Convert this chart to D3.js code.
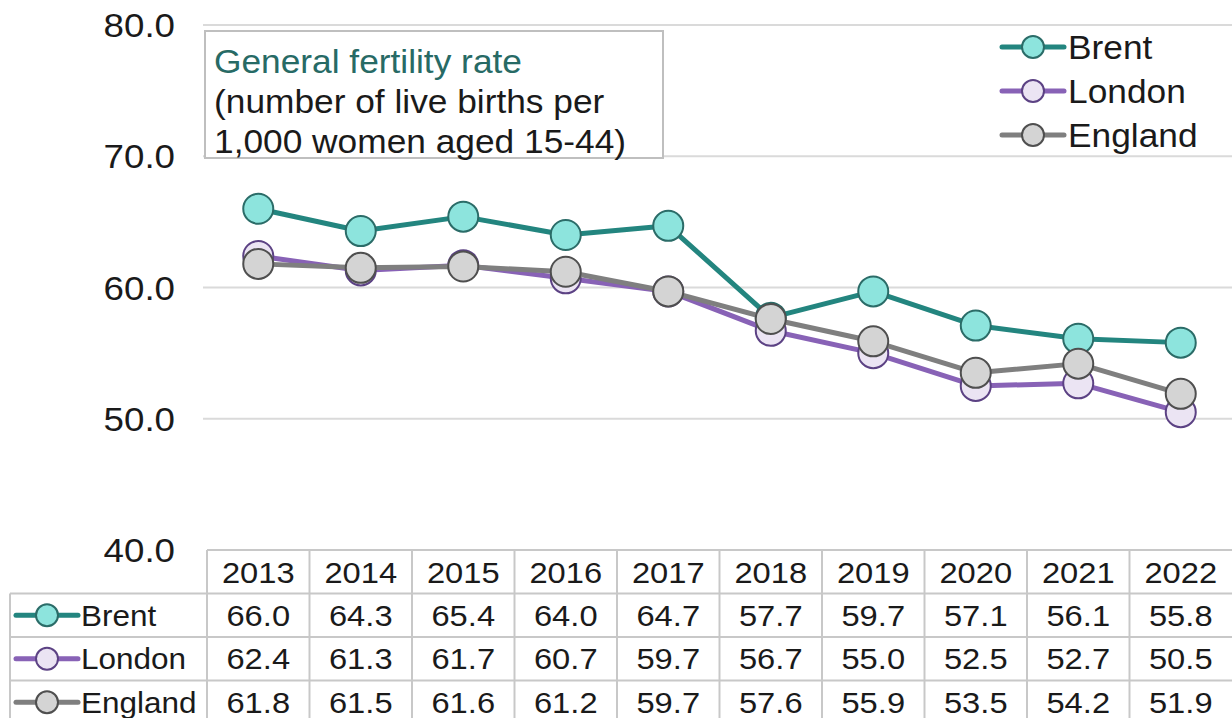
<!DOCTYPE html>
<html>
<head>
<meta charset="utf-8">
<script src="https://cdn.jsdelivr.net/npm/d3@7"></script>
<style>
  body { margin: 0; background: #fff; }
  svg { font-family: "Liberation Sans", Arial, sans-serif; }
</style>
</head>
<body>
<svg width="1232" height="718"></svg>
<script>
// data
var years = ["2013", "2014", "2015", "2016", "2017", "2018", "2019", "2020", "2021", "2022"];
var brent = [66.0, 64.3, 65.4, 64.0, 64.7, 57.7, 59.7, 57.1, 56.1, 55.8];
var london = [62.4, 61.3, 61.7, 60.7, 59.7, 56.7, 55.0, 52.5, 52.7, 50.5];
var england = [61.8, 61.5, 61.6, 61.2, 59.7, 57.6, 55.9, 53.5, 54.2, 51.9];
var yTicks = [40, 50, 60, 70, 80];
var titleLines = ["General fertility rate", "(number of live births per", "1,000 women aged 15-44)"];

var series = [
  { name: "Brent", values: brent, line: "#23857f", fill: "#8de4dd", stroke: "#2b6c68" },
  { name: "London", values: london, line: "#8862b6", fill: "#ebe4f3", stroke: "#5c4284" },
  { name: "England", values: england, line: "#7f7f7f", fill: "#d4d4d4", stroke: "#4f4f4f" }
];

var svg = d3.select("svg");
var plotLeft = 207, plotRight = 1232;

var x = d3.scaleBand().domain(years).range([plotLeft, plotRight]);
var y = d3.scaleLinear().domain([40, 80]).range([550, 25]);

function cx(i) { return x(years[i]) + x.bandwidth() / 2; }

// text in the source is a little wider than Arial, so stretch it horizontally
function place(sel, fx, fy, sx) {
  sel.attr("transform", function(d, i) {
    return "translate(" + fx(d, i) + "," + fy(d, i) + ") scale(" + sx + ",1)";
  });
}

// gridlines
svg.append("g")
    .selectAll("line")
    .data(yTicks.slice(1))
    .enter().append("line")
    .attr("x1", plotLeft - 4)
    .attr("x2", plotRight)
    .attr("y1", function(d) { return y(d); })
    .attr("y2", function(d) { return y(d); })
    .attr("stroke", "#dadada")
    .attr("stroke-width", 2);

// y axis labels
svg.append("g")
    .selectAll("text")
    .data(yTicks)
    .enter().append("text")
    .attr("text-anchor", "end")
    .attr("font-size", "34px")
    .attr("fill", "#1a1a1a")
    .text(function(d) { return d.toFixed(1); })
    .call(place, function() { return 175; }, function(d) { return y(d) + 12; }, 1.08);

// title box
svg.append("rect")
    .attr("x", 205).attr("y", 31)
    .attr("width", 458).attr("height", 127)
    .attr("fill", "#fff")
    .attr("stroke", "#bfbfbf")
    .attr("stroke-width", 2);

svg.append("g")
    .selectAll("text")
    .data(titleLines)
    .enter().append("text")
    .attr("font-size", "33px")
    .attr("fill", function(d, i) { return i === 0 ? "#276a65" : "#1a1a1a"; })
    .text(function(d) { return d; })
    .call(place, function() { return 214; }, function(d, i) { return 73 + i * 40; }, 1.07);

// lines and markers
var line = d3.line()
    .x(function(d, i) { return cx(i); })
    .y(function(d) { return y(d); });

series.forEach(function(s) {
  var g = svg.append("g");
  g.append("path")
      .datum(s.values)
      .attr("d", line)
      .attr("fill", "none")
      .attr("stroke", s.line)
      .attr("stroke-width", 5)
      .attr("stroke-linejoin", "round");
  g.selectAll("circle")
      .data(s.values)
      .enter().append("circle")
      .attr("cx", function(d, i) { return cx(i); })
      .attr("cy", function(d) { return y(d); })
      .attr("r", 15)
      .attr("fill", s.fill)
      .attr("stroke", s.stroke)
      .attr("stroke-width", 2);
});

// legend marker helper
function legendKey(g, s, kx, ky) {
  g.append("line")
      .attr("x1", kx - 31).attr("x2", kx + 31)
      .attr("y1", ky).attr("y2", ky)
      .attr("stroke", s.line)
      .attr("stroke-width", 5)
      .attr("stroke-linecap", "round");
  g.append("circle")
      .attr("cx", kx).attr("cy", ky).attr("r", 11)
      .attr("fill", s.fill)
      .attr("stroke", s.stroke)
      .attr("stroke-width", 2);
}

// legend top right
var legend = svg.append("g");
series.forEach(function(s, i) {
  var ky = 47 + i * 44;
  legendKey(legend, s, 1033, ky);
  legend.append("text")
      .datum(s.name)
      .attr("font-size", "33px")
      .attr("fill", "#1a1a1a")
      .text(s.name)
      .call(place, function() { return 1068; }, function() { return ky + 12; }, 1.07);
});

// data table
var tableTop = 550, rowH = 43.5, labelLeft = 10;
var table = svg.append("g");
var border = "#c8c8c8";

// header row
table.selectAll(".hdr")
    .data(years)
    .enter().append("text")
    .attr("class", "hdr")
    .attr("text-anchor", "middle")
    .attr("font-size", "30px")
    .attr("fill", "#1a1a1a")
    .text(function(d) { return d; })
    .call(place, function(d, i) { return cx(i); }, function() { return tableTop + 33; }, 1.09);

series.forEach(function(s, r) {
  var top = tableTop + rowH * (r + 1);
  legendKey(table, s, 47, top + rowH / 2);
  table.append("text")
      .attr("font-size", "30px")
      .attr("fill", "#1a1a1a")
      .text(s.name)
      .call(place, function() { return 81; }, function() { return top + 32; }, 1.05);
  table.selectAll(".v" + r)
      .data(s.values)
      .enter().append("text")
      .attr("class", "v" + r)
      .attr("text-anchor", "middle")
      .attr("font-size", "30px")
      .attr("fill", "#1a1a1a")
      .text(function(d) { return d.toFixed(1); })
      .call(place, function(d, i) { return cx(i); }, function() { return top + 32; }, 1.09);
});

// table grid: horizontal lines
var hLines = [0, 1, 2, 3, 4].map(function(r) { return tableTop + rowH * r; });
table.selectAll(".hl")
    .data(hLines)
    .enter().append("line")
    .attr("class", "hl")
    .attr("x1", function(d, i) { return i === 0 ? plotLeft : labelLeft; })
    .attr("x2", plotRight)
    .attr("y1", function(d) { return d; })
    .attr("y2", function(d) { return d; })
    .attr("stroke", border)
    .attr("stroke-width", 2);

// vertical lines
table.selectAll(".vl")
    .data(years)
    .enter().append("line")
    .attr("class", "vl")
    .attr("x1", function(d) { return x(d); })
    .attr("x2", function(d) { return x(d); })
    .attr("y1", tableTop)
    .attr("y2", 718)
    .attr("stroke", border)
    .attr("stroke-width", 2);

table.append("line")
    .attr("x1", labelLeft).attr("x2", labelLeft)
    .attr("y1", tableTop + rowH).attr("y2", 718)
    .attr("stroke", border)
    .attr("stroke-width", 2);
</script>
</body>
</html>
